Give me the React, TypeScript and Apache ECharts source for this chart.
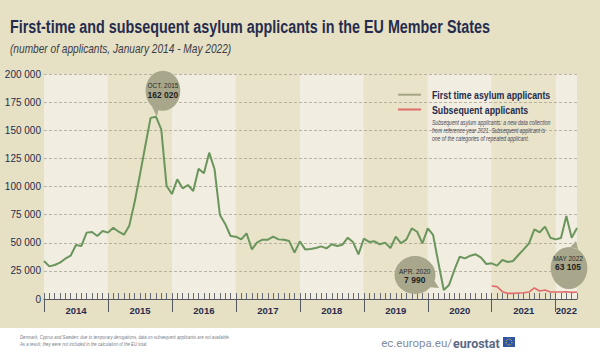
import React, { useEffect, useRef } from 'react';
import * as echarts from 'echarts';

const YEARS = ['2014', '2015', '2016', '2017', '2018', '2019', '2020', '2021', '2022'];

const FIRST_TIME = [
  33800, 29000, 30200, 32300, 35800, 38500, 48000, 47100, 59000, 59600, 56000, 60400,
  59000, 63400, 59800, 57200, 65200, 86000, 110500, 136000, 161000, 162020, 150800, 100400,
  93300, 106400, 98400, 101300, 96000, 115800, 111700, 130100, 115300, 74700, 66700, 56000,
  55400, 53000, 58400, 44100, 50400, 52700, 52700, 55400, 53000, 52700, 51500, 41200,
  51200, 44100, 44400, 45300, 46800, 45000, 48600, 47100, 48300, 54500, 50400, 39700,
  53600, 50700, 51300, 48600, 50100, 45300, 55400, 49500, 53000, 62800, 59800, 49500,
  62800, 56900, 32000, 7990, 12500, 25800, 37600, 36100, 38500, 39700, 36700, 31100,
  31700, 29700, 34700, 32900, 33800, 39100, 44100, 49500, 61900, 59300, 64300, 54500,
  53000, 54200, 73800, 54500, 63105,
];

// Subsequent applicants, January 2021 - May 2022
const SUBSEQUENT_START = '2021-01';
const SUBSEQUENT = [
  11600, 11000, 6500, 5000, 5000, 5300, 5600, 6200, 9800, 7100, 8000, 6200,
  6200, 6200, 6500, 5900, 6200,
];

const ANNOTATIONS = [
  { month: '2015-10', value: 162020, date: 'OCT. 2015', text: '162 020' },
  { month: '2020-04', value: 7990, date: 'APR. 2020', text: '7 990' },
  { month: '2022-05', value: 63105, date: 'MAY 2022', text: '63 105' },
];

const SERIES_NAMES = ['First time asylum applicants', 'Subsequent applicants'];
const NOTE_LINES = [
  'Subsequent asylum applicants: a new data collection',
  'from reference year 2021. Subsequent applicant is',
  'one of the categories of repeated applicant.',
];
const FOOTER_LINES = [
  'Denmark, Cyprus and Sweden: due to temporary derogations, data on subsequent applicants are not available.',
  'As a result, they were not included in the calculation of the EU total.',
];

const LAST_MONTH = '2022-05';
const MONTHS: string[] = [];
for (const y of YEARS) {
  for (let m = 1; m <= 12; m++) {
    const key = `${y}-${String(m).padStart(2, '0')}`;
    if (key > LAST_MONTH) break;
    MONTHS.push(key);
  }
}

const FONT = '"Liberation Sans Narrow", "Liberation Sans", Arial, sans-serif';
const NAVY = '#262c4d';
const BG = '#e6e0c4';
const BAND_LIGHT = '#f1ede0';
const BAND_DARK = '#e9e3ca';
const GREEN = '#6a955c';
const LEGEND_GREEN = '#a5a585';
const RED = '#e06b6b';
const BUBBLE = '#a8a78b';

// bubble shapes (circle + tail) and placement relative to the data point
const BUBBLES = [
  {
    path: 'path://M20,0 A20,20 0 1,1 -20,0 A20,20 0 1,1 20,0 Z M-5.2,19.3 L-7,26 L-12.9,15.3 Z',
    size: [40, 46],
    offset: [7, -23],
    labelOffset: [0, -3],
  },
  {
    path: 'path://M20.5,0 A20.5,20.5 0 1,1 -20.5,0 A20.5,20.5 0 1,1 20.5,0 Z M19.5,6.3 L24,14 L15.7,13.2 Z',
    size: [44.5, 41],
    offset: [-27, -15],
    labelOffset: [-2, 1],
  },
  {
    path: 'path://M21,0 A21,21 0 1,1 -21,0 A21,21 0 1,1 21,0 Z M10.5,-18.2 L8,-27 L1.8,-20.9 Z',
    size: [42, 48],
    offset: [-8, 37],
    labelOffset: [-1, -2],
  },
];

const fmt = (v: number) => String(v).replace(/\B(?=(\d{3})+(?!\d))/g, ' ');

function buildOption(): any {
  const subStartIdx = MONTHS.indexOf(SUBSEQUENT_START);
  const subsequentFull = MONTHS.map((_, i) =>
    i >= subStartIdx && i - subStartIdx < SUBSEQUENT.length ? SUBSEQUENT[i - subStartIdx] : null
  );

  const bands = YEARS.map((y, i) => [
    { xAxis: `${y}-01`, itemStyle: { color: i % 2 === 0 ? BAND_LIGHT : BAND_DARK } },
    { xAxis: i < YEARS.length - 1 ? `${YEARS[i + 1]}-01` : LAST_MONTH },
  ]);

  const yearLabelIdx = new Set<number>();
  YEARS.forEach((y) => {
    const idxs = MONTHS.map((m, i) => (m.startsWith(y) ? i : -1)).filter((i) => i >= 0);
    const first = idxs[0];
    const last = idxs.length === 12 ? first + 12 : idxs[idxs.length - 1];
    yearLabelIdx.add(Math.round((first + last) / 2));
  });

  const markPoints = ANNOTATIONS.map((a, i) => ({
    coord: [a.month, a.value],
    symbol: BUBBLES[i].path,
    symbolSize: BUBBLES[i].size,
    symbolOffset: BUBBLES[i].offset,
    symbolKeepAspect: true,
    itemStyle: { color: BUBBLE },
    label: {
      show: true,
      position: 'inside',
      offset: BUBBLES[i].labelOffset,
      formatter: `{d|${a.date}}\n{v|${a.text}}`,
      rich: {
        d: { fontSize: 6.5, fontFamily: FONT, color: '#2a2a2a', lineHeight: 8, align: 'center' },
        v: { fontSize: 8.5, fontWeight: 'bold', fontFamily: FONT, color: '#1e1e1e', lineHeight: 10, align: 'center' },
      },
    },
  }));

  const txt = (x: number, y: number, text: string, font: string, fill: string, scaleX = 1, align = 'left') => ({
    type: 'text',
    x,
    y,
    z: 20,
    scaleX,
    silent: true,
    style: { text, font, fill, align, textAlign: align, verticalAlign: 'middle', textVerticalAlign: 'middle' },
  });

  const legendLine = (y: number, color: string) => ({
    type: 'line',
    z: 20,
    silent: true,
    shape: { x1: 398, y1: y, x2: 421, y2: y },
    style: { stroke: color, lineWidth: 2 },
  });

  return {
    animation: false,
    backgroundColor: BG,
    grid: { left: 44, right: 23, top: 74, bottom: 58, containLabel: false },
    legend: { show: false, data: SERIES_NAMES },
    xAxis: [
      {
        type: 'category',
        data: MONTHS,
        boundaryGap: false,
        position: 'bottom',
        z: 1.5,
        axisLine: { show: true, lineStyle: { color: '#55585f', width: 1 } },
        axisTick: { show: true, inside: true, length: 6, interval: 0, lineStyle: { color: '#666a72', width: 1 } },
        axisLabel: {
          show: true,
          interval: (idx: number) => yearLabelIdx.has(idx),
          formatter: (v: string) => v.slice(0, 4),
          fontFamily: FONT,
          fontSize: 9.5,
          fontWeight: 'bold',
          color: NAVY,
          margin: 6,
        },
        splitLine: { show: false },
      },
      {
        type: 'category',
        data: MONTHS,
        boundaryGap: false,
        position: 'bottom',
        z: 1.5,
        axisLine: { show: false },
        axisTick: {
          show: true,
          inside: false,
          length: 13,
          interval: (idx: number) => idx % 12 === 0,
          lineStyle: { color: '#55585f', width: 1 },
        },
        axisLabel: { show: false },
        splitLine: { show: false },
      },
    ],
    yAxis: {
      type: 'value',
      min: 0,
      max: 200000,
      interval: 25000,
      z: 1.5,
      axisLine: { show: false },
      axisTick: { show: false },
      axisLabel: { formatter: (v: number) => fmt(v), fontFamily: FONT, fontSize: 10, color: NAVY, margin: 3 },
      splitLine: { show: true, lineStyle: { color: '#a9a596', width: 0.8, type: [3, 2] } },
    },
    series: [
      {
        name: SERIES_NAMES[0],
        type: 'line',
        data: FIRST_TIME,
        symbol: 'none',
        lineStyle: { color: GREEN, width: 2 },
        itemStyle: { color: GREEN },
        markArea: { silent: true, label: { show: false }, data: bands },
        markPoint: { silent: true, data: markPoints },
      },
      {
        name: SERIES_NAMES[1],
        type: 'line',
        data: subsequentFull,
        symbol: 'none',
        lineStyle: { color: RED, width: 1.6 },
        itemStyle: { color: RED },
      },
    ],
    graphic: [
      { type: 'rect', z: 20, shape: { x: 0, y: 328, width: 600, height: 29 }, style: { fill: '#ffffff' }, silent: true },
      txt(10, 27, 'First-time and subsequent asylum applicants in the EU Member States', `bold 17.5px ${FONT}`, NAVY, 0.82),
      txt(10, 49, '(number of applicants, January 2014 - May 2022)', `italic 12px ${FONT}`, '#3a3b48', 0.845),
      legendLine(94.7, LEGEND_GREEN),
      legendLine(109.5, RED),
      txt(432, 95, SERIES_NAMES[0], `bold 11px ${FONT}`, NAVY, 0.8),
      txt(432, 110, SERIES_NAMES[1], `bold 11px ${FONT}`, NAVY, 0.8),
      ...NOTE_LINES.map((l, i) => txt(432, 123 + i * 7.7, l, `italic 6.4px ${FONT}`, '#45465a', 0.79)),
      ...FOOTER_LINES.map((l, i) => txt(20, 337 + i * 7, l, `italic 5.2px ${FONT}`, '#7a7d88', 0.82)),
      txt(452, 343, 'ec.europa.eu/', `11.5px Roboto, "Liberation Sans", sans-serif`, '#848ea0', 1, 'right'),
      txt(453, 343, 'eurostat', `bold 12.5px Roboto, "Liberation Sans", sans-serif`, '#5a6884'),
      { type: 'rect', z: 20, shape: { x: 503, y: 337, width: 12, height: 10 }, style: { fill: '#2f55a4' }, silent: true },
      {
        type: 'circle',
        z: 21,
        shape: { cx: 509, cy: 342, r: 3 },
        style: { fill: 'none', stroke: '#f2cf2f', lineWidth: 1, lineDash: [1, 1] },
        silent: true,
      },
    ],
  };
}

export default function App() {
  const ref = useRef<HTMLDivElement>(null);
  useEffect(() => {
    if (!ref.current) return;
    const chart = echarts.init(ref.current, undefined, { renderer: 'svg' });
    chart.setOption(buildOption());
    return () => chart.dispose();
  }, []);
  return <div ref={ref} style={{ position: 'absolute', left: 0, top: 0, width: 600, height: 357 }} />;
}
